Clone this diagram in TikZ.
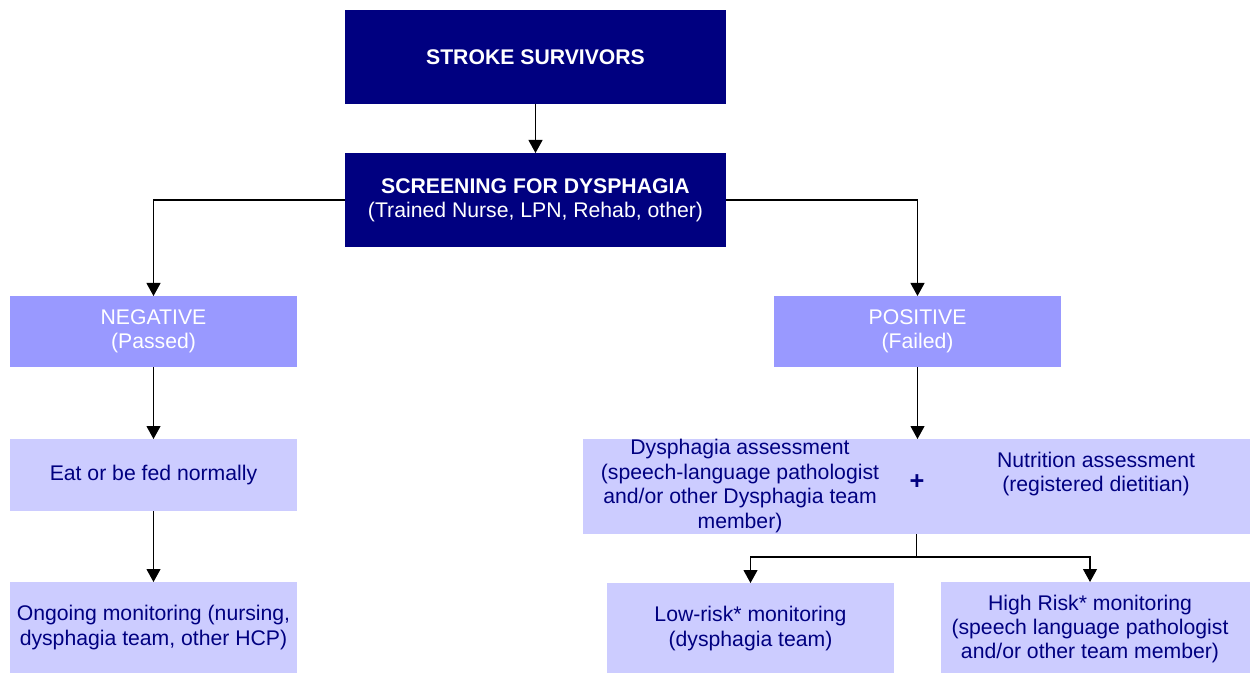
\documentclass[tikz,border=0pt]{standalone}
\usepackage{fontspec}
\setmainfont{Liberation Sans}
\usetikzlibrary{arrows.meta}
\definecolor{navy}{HTML}{000080}
\definecolor{midblue}{HTML}{9999FF}
\definecolor{paleblue}{HTML}{CCCCFF}
\begin{document}
\begin{tikzpicture}[x=0.75pt,y=-0.75pt,
  txt/.style={font=\fontsize{15.9}{18.3}\selectfont, align=center, inner sep=0pt},
  darkbox/.style={fill=navy, text=white, draw=none, inner sep=0pt, outer sep=0pt, txt},
  midbox/.style={fill=midblue, text=white, draw=none, inner sep=0pt, outer sep=0pt, txt},
  palebox/.style={fill=paleblue, text=navy, draw=none, inner sep=0pt, outer sep=0pt, txt},
  wideA/.style={minimum width=285.75pt},
  wideB/.style={minimum width=215.25pt},
  link/.style={draw=black, line width=0.8pt, -{Triangle[width=10.5pt,length=9.75pt]}},
  plain/.style={draw=black, line width=0.8pt}]
\useasboundingbox (0,0) rectangle (1251,673);

% top of the chart
\node[darkbox, wideA, minimum height=70.5pt] (stroke) at (535.5,57) {\textbf{STROKE SURVIVORS}};
\node[darkbox, wideA, minimum height=70.5pt] (screen) at (535.5,200)
  {\textbf{SCREENING FOR DYSPHAGIA}\\(Trained Nurse, LPN, Rehab, other)};

% screening outcomes
\node[midbox, wideB, minimum height=53.25pt] (neg) at (153.5,331.5) {NEGATIVE\\(Passed)};
\node[midbox, wideB, minimum height=53.25pt] (pos) at (917.5,331.5) {POSITIVE\\(Failed)};

% negative branch
\node[palebox, wideB, minimum height=54pt] (eat) at (153.5,475) {Eat or be fed normally};
\node[palebox, wideB, minimum height=68.25pt] (ongo) at (153.5,627.5)
  {Ongoing monitoring (nursing,\\dysphagia team, other HCP)};

% positive branch
\node[palebox, minimum width=500.25pt, minimum height=71.25pt] (dys) at (916.5,486.5) {};
\node[txt, text=navy] (dysA) at (740,486)
  {Dysphagia assessment\\(speech-language pathologist\\and/or other Dysphagia team\\member)};
\node[txt, text=navy, font=\fontsize{19}{20}\selectfont\bfseries] (plus) at (917,482) {+};
\node[txt, text=navy] (dysB) at (1096,474) {Nutrition assessment\\(registered dietitian)};

\node[palebox, wideB, minimum height=68.25pt] (low) at (750.5,628.5)
  {Low-risk* monitoring\\(dysphagia team)};
\node[palebox, minimum width=231.75pt, minimum height=68.25pt] (high) at (1095.5,627.5) {};
\node[txt, text=navy] (highT) at (1090,629)
  {High Risk* monitoring\\(speech language pathologist\\and/or other team member)};

% connectors
\coordinate (fork) at (916.5,557);
\draw[link] (stroke.south) -- (screen.north);
\draw[link] (screen.west) -| (neg.north);
\draw[link] (screen.east) -| (pos.north);
\draw[link] (neg.south) -- (eat.north);
\draw[link] (eat.south) -- (ongo.north);
\draw[link] (pos.south) -- (pos.south |- dys.north);
\draw[plain] (dys.south) -- (fork);
\draw[link] (fork) -| (low.north);
\draw[link] (fork) -| (highT |- high.north);
\end{tikzpicture}
\end{document}
